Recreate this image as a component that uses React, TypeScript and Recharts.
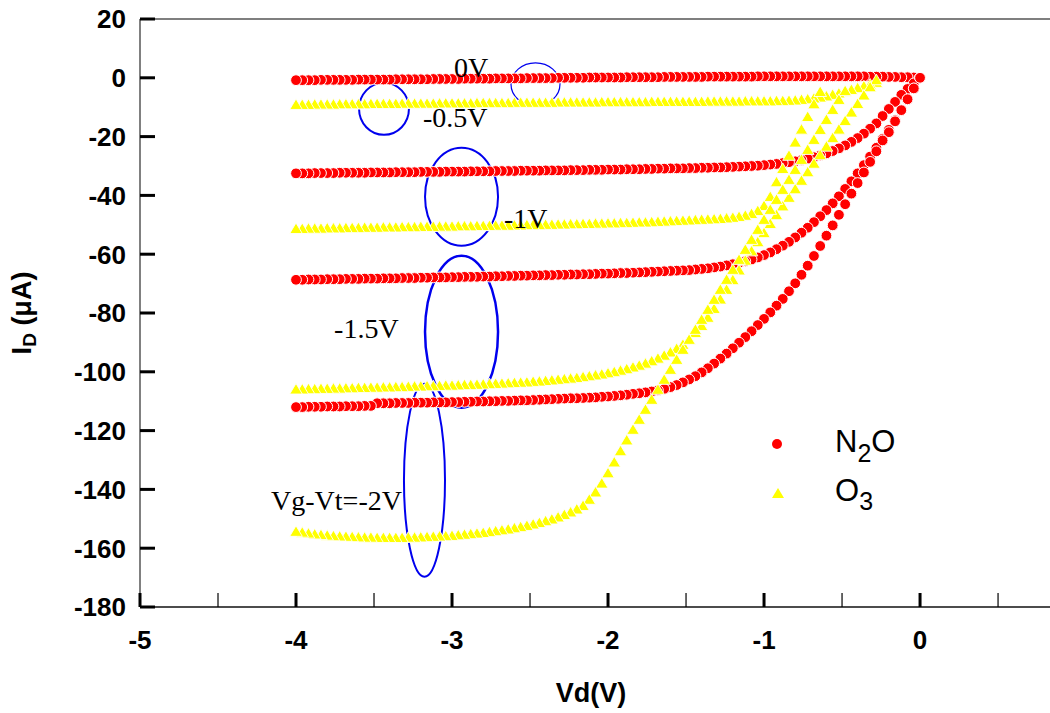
import {
  ScatterChart, Scatter, XAxis, YAxis, ReferenceLine, ReferenceArea, ReferenceDot, Legend,
} from "recharts";

// drain sweep, V
const VD = [
  -4, -3.96, -3.92, -3.88, -3.84, -3.8, -3.76, -3.72, -3.68, -3.64,
  -3.6, -3.56, -3.52, -3.48, -3.44, -3.4, -3.36, -3.32, -3.28, -3.24,
  -3.2, -3.16, -3.12, -3.08, -3.04, -3, -2.96, -2.92, -2.88, -2.84,
  -2.8, -2.76, -2.72, -2.68, -2.64, -2.6, -2.56, -2.52, -2.48, -2.44,
  -2.4, -2.36, -2.32, -2.28, -2.24, -2.2, -2.16, -2.12, -2.08, -2.04,
  -2, -1.96, -1.92, -1.88, -1.84, -1.8, -1.76, -1.72, -1.68, -1.64,
  -1.6, -1.56, -1.52, -1.48, -1.44, -1.4, -1.36, -1.32, -1.28, -1.24,
  -1.2, -1.16, -1.12, -1.08, -1.04, -1, -0.96, -0.92, -0.88, -0.84,
  -0.8, -0.76, -0.72, -0.68, -0.64, -0.6, -0.56, -0.52, -0.48, -0.44,
  -0.4, -0.36, -0.32, -0.28, -0.24, -0.2, -0.16, -0.12, -0.08, -0.04,
  0,
];

// N2O drain current (uA), one array per Vg-Vt step
const N2O_0V = [
  -0.8, -0.8, -0.8, -0.8, -0.7, -0.7, -0.7, -0.7, -0.7, -0.7,
  -0.6, -0.6, -0.6, -0.6, -0.6, -0.6, -0.5, -0.5, -0.5, -0.5,
  -0.5, -0.5, -0.4, -0.4, -0.4, -0.4, -0.4, -0.3, -0.3, -0.3,
  -0.3, -0.3, -0.2, -0.2, -0.2, -0.2, -0.2, -0.1, -0.1, -0.1,
  -0.1, -0.1, 0, 0, 0, 0, 0, 0.1, 0.1, 0.1,
  0.1, 0.1, 0.1, 0.2, 0.2, 0.2, 0.2, 0.2, 0.2, 0.3,
  0.3, 0.3, 0.3, 0.3, 0.3, 0.3, 0.4, 0.4, 0.4, 0.4,
  0.4, 0.4, 0.4, 0.4, 0.5, 0.5, 0.5, 0.5, 0.5, 0.5,
  0.5, 0.5, 0.5, 0.5, 0.5, 0.5, 0.5, 0.5, 0.5, 0.5,
  0.5, 0.5, 0.4, 0.4, 0.4, 0.3, 0.3, 0.2, 0.2, 0.1,
  0,
];
const N2O_05V = [
  -32.5, -32.5, -32.5, -32.4, -32.4, -32.4, -32.4, -32.3, -32.3, -32.3,
  -32.3, -32.3, -32.2, -32.2, -32.2, -32.2, -32.1, -32.1, -32.1, -32.1,
  -32.0, -32.0, -32.0, -32.0, -31.9, -31.9, -31.9, -31.9, -31.8, -31.8,
  -31.8, -31.8, -31.7, -31.7, -31.7, -31.7, -31.6, -31.6, -31.6, -31.6,
  -31.5, -31.5, -31.5, -31.5, -31.4, -31.4, -31.4, -31.3, -31.3, -31.3,
  -31.2, -31.2, -31.2, -31.1, -31.1, -31.1, -31.0, -31.0, -30.9, -30.9,
  -30.8, -30.8, -30.8, -30.7, -30.7, -30.6, -30.6, -30.5, -30.5, -30.4,
  -30.3, -30.2, -30.1, -30.0, -29.9, -29.7, -29.5, -29.3, -29.0, -28.7,
  -28.4, -28.0, -27.5, -27.0, -26.4, -25.7, -24.9, -24.0, -23.0, -21.8,
  -20.5, -19.0, -17.3, -15.5, -13.0, -10.6, -8.2, -5.8, -3.8, -1.9,
  0,
];
const N2O_1V = [
  -68.7, -68.7, -68.6, -68.6, -68.6, -68.5, -68.5, -68.5, -68.4, -68.4,
  -68.4, -68.3, -68.3, -68.3, -68.2, -68.2, -68.2, -68.1, -68.1, -68.1,
  -68.0, -68.0, -67.9, -67.9, -67.9, -67.8, -67.8, -67.7, -67.7, -67.7,
  -67.6, -67.6, -67.5, -67.5, -67.4, -67.4, -67.3, -67.3, -67.2, -67.2,
  -67.1, -67.1, -67.0, -67.0, -66.9, -66.9, -66.8, -66.8, -66.7, -66.6,
  -66.6, -66.5, -66.4, -66.4, -66.3, -66.2, -66.1, -66.0, -65.9, -65.8,
  -65.7, -65.6, -65.5, -65.4, -65.2, -65.0, -64.8, -64.5, -64.2, -63.8,
  -63.4, -62.9, -62.4, -61.8, -61.1, -60.3, -59.4, -58.3, -57.1, -55.8,
  -54.3, -52.7, -51.0, -49.1, -47.1, -45.0, -42.7, -40.3, -37.8, -35.2,
  -32.5, -29.7, -26.8, -23.8, -20.8, -17.7, -14.4, -11.0, -7.4, -3.7,
  0,
];
const N2O_15V = [
  -112.0, -112.0, -111.9, -111.9, -111.9, -111.8, -111.8, -111.8, -111.7, -111.7,
  -111.7, -111.6, -111.6, -110.7, -110.7, -110.7, -110.6, -110.6, -110.6, -110.5,
  -110.5, -110.5, -110.4, -110.4, -110.4, -110.3, -110.3, -110.2, -110.2, -110.1,
  -110.1, -110.0, -110.0, -109.9, -109.9, -109.8, -109.7, -109.7, -109.6, -109.5,
  -109.4, -109.3, -109.2, -109.1, -109.0, -109.0, -108.9, -108.8, -108.7, -108.5,
  -108.4, -108.2, -108.0, -107.8, -107.5, -107.3, -107.0, -106.7, -106.3, -105.8,
  -105.2, -104.5, -103.6, -102.6, -101.5, -100.2, -98.8, -97.2, -95.5, -93.8,
  -92.0, -90.1, -88.2, -86.2, -84.1, -82.0, -79.8, -77.5, -75.2, -72.6,
  -69.9, -67.0, -63.9, -60.6, -57.2, -53.7, -50.2, -46.6, -43.0, -39.4,
  -35.8, -32.2, -28.6, -25.0, -21.3, -18.5, -14.8, -11.0, -7.3, -3.6,
  0,
];

// O3 drain current (uA); these sweeps stop short of Vd = 0
const O3_0V = [
  -9.2, -9.2, -9.2, -9.1, -9.1, -9.1, -9.1, -9.0, -9.0, -9.0,
  -9.0, -9.0, -8.9, -8.9, -8.9, -8.9, -8.9, -8.8, -8.8, -8.8,
  -8.8, -8.8, -8.8, -8.7, -8.7, -8.7, -8.7, -8.7, -8.7, -8.6,
  -8.6, -8.6, -8.6, -8.6, -8.6, -8.5, -8.5, -8.5, -8.5, -8.5,
  -8.5, -8.5, -8.4, -8.4, -8.4, -8.4, -8.4, -8.4, -8.4, -8.3,
  -8.3, -8.3, -8.3, -8.3, -8.3, -8.3, -8.3, -8.2, -8.2, -8.2,
  -8.2, -8.2, -8.2, -8.2, -8.2, -8.2, -8.1, -8.1, -8.1, -8.1,
  -8.1, -8.1, -8.0, -8.0, -8.0, -8.0, -8.0, -7.9, -7.9, -7.8,
  -7.7, -7.5, -7.3, -7.0, -6.7, -6.3, -5.8, -5.3, -4.7, -4.1,
  -3.5, -2.9, -2.3, -1.7,
];
const O3_05V = [
  -51.4, -51.4, -51.3, -51.3, -51.3, -51.2, -51.2, -51.2, -51.1, -51.1,
  -51.1, -51.0, -51.0, -51.0, -50.9, -50.9, -50.9, -50.8, -50.8, -50.8,
  -50.7, -50.7, -50.7, -50.6, -50.6, -50.6, -50.5, -50.5, -50.5, -50.4,
  -50.4, -50.4, -50.3, -50.3, -50.3, -50.2, -50.2, -50.1, -50.1, -50.1,
  -50.0, -50.0, -49.9, -49.9, -49.8, -49.8, -49.7, -49.7, -49.6, -49.6,
  -49.5, -49.5, -49.4, -49.4, -49.3, -49.2, -49.2, -49.1, -49.0, -48.9,
  -48.8, -48.7, -48.6, -48.5, -48.4, -48.3, -48.2, -48.1, -48.0, -47.8,
  -47.6, -47.3, -46.9, -46.3, -45.3, -43.6, -40.5, -35.5, -31.0, -26.5,
  -22.0, -17.6, -13.3, -9.0, -4.8,
];
const O3_1V = [
  -106.0, -106.0, -105.9, -105.9, -105.8, -105.8, -105.7, -105.7, -105.6, -105.6,
  -105.5, -105.5, -105.4, -105.4, -105.3, -105.3, -105.2, -105.2, -105.1, -105.0,
  -105.0, -104.9, -104.9, -104.8, -104.7, -104.7, -104.6, -104.5, -104.5, -104.4,
  -104.3, -104.2, -104.1, -104.0, -103.9, -103.8, -103.7, -103.6, -103.4, -103.3,
  -103.1, -102.9, -102.7, -102.5, -102.3, -102.1, -101.8, -101.5, -101.2, -100.9,
  -100.5, -100.1, -99.6, -99.1, -98.5, -97.9, -97.2, -96.4, -95.5, -94.5,
  -93.4, -92.2, -90.8, -89.2, -86.8, -84.4, -81.6, -78.6, -75.4, -72.1,
  -68.8, -65.5, -62.2, -59.0, -55.9, -52.8, -49.7, -46.7, -43.7, -40.8,
  -37.9, -35.0, -32.1, -29.2, -26.3, -23.4, -20.5, -17.6, -14.7, -11.8,
  -8.9, -6.0, -3.2, -0.8,
];
const O3_15V = [
  -154.4, -154.7, -155.0, -155.3, -155.5, -155.7, -155.9, -156.0, -156.1, -156.2,
  -156.3, -156.4, -156.4, -156.5, -156.5, -156.5, -156.5, -156.5, -156.4, -156.4,
  -156.3, -156.2, -156.1, -156.0, -155.9, -155.8, -155.6, -155.4, -155.2, -155.0,
  -154.8, -154.5, -154.2, -153.9, -153.6, -153.2, -152.8, -152.4, -151.9, -151.4,
  -150.8, -150.2, -149.5, -148.7, -147.8, -146.8, -145.6, -143.5, -141.0, -138.0,
  -134.5, -130.8, -127.0, -123.3, -119.7, -116.3, -112.9, -109.5, -106.1, -102.7,
  -99.3, -95.9, -92.5, -89.1, -85.7, -82.3, -78.9, -75.5, -72.1, -68.7,
  -65.3, -61.9, -58.5, -55.1, -51.7, -48.3, -44.9, -41.5, -38.1, -34.7,
  -31.3, -27.9, -24.5, -21.1, -17.7, -14.3, -10.9, -7.5, -4.5,
];

const X_TICKS = [-5, -4.5, -4, -3.5, -3, -2.5, -2, -1.5, -1, -0.5, 0, 0.5];
const Y_TICKS = [-180, -160, -140, -120, -100, -80, -60, -40, -20, 0, 20];

// gate-step annotations: text, Vd, Id at the text baseline start
const NOTE_TEXT = ["0V", "-0.5V", "-1V", "-1.5V", "Vg-Vt=-2V"];
const NOTE_VD = [-2.987, -3.186, -2.667, -3.756, -4.16];
const NOTE_ID = [0.4, -16.7, -51.0, -88.4, -146.9];

// ellipses pairing the curves: Vd range, Id range
const RING_VD = [[-2.622, -2.308], [-3.596, -3.276], [-3.173, -2.705], [-3.173, -2.705], [-3.308, -3.045]];
const RING_ID = [[-9.5, 5.1], [-19.4, -1.7], [-57.1, -23.8], [-112.2, -60.5], [-169.7, -104.1]];
const RING_W = [1.2, 2, 2, 2.5, 2];

const SANS = "'Liberation Sans', Arial, sans-serif";
const SERIF = "'Liberation Serif', 'Times New Roman', serif";

// points are stored low-to-high but drawn from Vd = 0 back to -4
const toPoints = (ids: number[]) => ids.map((id, i) => ({ vd: VD[i], id })).reverse();

const RedDot = (p: any) => (
  <circle cx={p.cx} cy={p.cy} r={5.4} fill="#ff0000" stroke="#fff" strokeWidth={1} />
);

const YellowTri = (p: any) => (
  <polygon
    points={`${p.cx},${p.cy - 6} ${p.cx - 6.3},${p.cy + 4.6} ${p.cx + 6.3},${p.cy + 4.6}`}
    fill="#ffff00"
    stroke="#fff"
    strokeWidth={0.9}
  />
);

const XTick = ({ x, y, payload }: any) => {
  const major = Number.isInteger(payload.value);
  return (
    <g>
      <line x1={x} x2={x} y1={y} y2={y - 14} stroke="#000" strokeWidth={major ? 3 : 1.2} />
      {major && (
        <text x={x} y={y + 33} dy="0.36em" textAnchor="middle" fontFamily={SANS} fontWeight="bold" fontSize={26} fill="#000">
          {payload.value}
        </text>
      )}
    </g>
  );
};

const YTick = ({ x, y, payload }: any) => (
  <g>
    <line x1={x} x2={x + 15} y1={y} y2={y} stroke="#000" strokeWidth={3} />
    <text x={x - 14} y={y} dy="0.36em" textAnchor="end" fontFamily={SANS} fontWeight="bold" fontSize={26} fill="#000">
      {payload.value}
    </text>
  </g>
);

const XTitle = ({ viewBox }: any) => (
  <text x={viewBox.x + viewBox.width / 2 - 4} y={viewBox.y + 95} textAnchor="middle" fontFamily={SANS} fontWeight="bold" fontSize={27} fill="#000">
    Vd(V)
  </text>
);

const YTitle = ({ viewBox }: any) => (
  <text
    transform="rotate(-90)"
    x={-(viewBox.y + viewBox.height / 2)}
    y={31}
    textAnchor="middle"
    fontFamily={SANS}
    fontWeight="bold"
    fontSize={27}
    fill="#000"
  >
    I<tspan dy={5} fontSize={19}>D</tspan>
    <tspan dy={-5}> (μA)</tspan>
  </text>
);

const LegendBox = () => (
  <svg width={150} height={100}>
    <circle cx={17} cy={24} r={5} fill="#ff0000" />
    <text x={75} y={32} fontFamily={SANS} fontSize={31} fill="#000">
      N<tspan dy={10} fontSize={25}>2</tspan>
      <tspan dy={-10}>O</tspan>
    </text>
    <polygon points="18,68 12,78 24,78" fill="#ffff00" />
    <text x={75} y={81} fontFamily={SANS} fontSize={31} fill="#000">
      O<tspan dy={9} fontSize={25}>3</tspan>
    </text>
  </svg>
);

const ring = (w: number) => (p: any) => (
  <ellipse
    cx={p.x + p.width / 2}
    cy={p.y + p.height / 2}
    rx={Math.abs(p.width) / 2}
    ry={Math.abs(p.height) / 2}
    fill="none"
    stroke="#0000ee"
    strokeWidth={w}
  />
);

const note = (text: string) => (p: any) => (
  <text x={p.cx} y={p.cy} fontFamily={SERIF} fontSize={28} fill="#000">
    {text}
  </text>
);

export default function App() {
  return (
    <div style={{ position: "absolute", left: 0, top: 0, width: 1050, height: 713, background: "#fff" }}>
      <ScatterChart width={1050} height={713} margin={{ top: 19, right: 0, bottom: 0, left: 0 }}>
        <XAxis
          type="number"
          dataKey="vd"
          domain={[-5, 0.833]}
          allowDataOverflow
          ticks={X_TICKS}
          interval={0}
          height={106}
          tickSize={0}
          tickMargin={0}
          tick={<XTick />}
          axisLine={{ stroke: "#111", strokeWidth: 1.5 }}
          label={{ content: <XTitle /> }}
        />
        <YAxis
          type="number"
          dataKey="id"
          domain={[-180, 20]}
          allowDataOverflow
          ticks={Y_TICKS}
          interval={0}
          width={140}
          tickSize={0}
          tickMargin={0}
          tick={<YTick />}
          axisLine={{ stroke: "#808080", strokeWidth: 2 }}
          label={{ content: <YTitle /> }}
        />
        <ReferenceLine y={20} stroke="#000" strokeWidth={1.2} />

        <Scatter name="N2O" data={toPoints(N2O_0V)} fill="#ff0000" shape={RedDot} isAnimationActive={false} />
        <Scatter name="N2O" data={toPoints(N2O_05V)} fill="#ff0000" shape={RedDot} isAnimationActive={false} />
        <Scatter name="N2O" data={toPoints(N2O_1V)} fill="#ff0000" shape={RedDot} isAnimationActive={false} />
        <Scatter name="N2O" data={toPoints(N2O_15V)} fill="#ff0000" shape={RedDot} isAnimationActive={false} />
        <Scatter name="O3" data={toPoints(O3_0V)} fill="#ffff00" shape={YellowTri} isAnimationActive={false} />
        <Scatter name="O3" data={toPoints(O3_05V)} fill="#ffff00" shape={YellowTri} isAnimationActive={false} />
        <Scatter name="O3" data={toPoints(O3_1V)} fill="#ffff00" shape={YellowTri} isAnimationActive={false} />
        <Scatter name="O3" data={toPoints(O3_15V)} fill="#ffff00" shape={YellowTri} isAnimationActive={false} />

        {RING_VD.map((vd, i) => (
          <ReferenceArea
            key={`ring-${i}`}
            x1={vd[0]}
            x2={vd[1]}
            y1={RING_ID[i][0]}
            y2={RING_ID[i][1]}
            shape={ring(RING_W[i])}
          />
        ))}
        {NOTE_TEXT.map((t, i) => (
          <ReferenceDot key={`note-${i}`} x={NOTE_VD[i]} y={NOTE_ID[i]} r={0} shape={note(t)} />
        ))}

        <Legend
          layout="vertical"
          align="center"
          verticalAlign="middle"
          content={<LegendBox />}
          wrapperStyle={{ position: "absolute", left: 760, top: 420, width: 150, height: 100 }}
        />
      </ScatterChart>
    </div>
  );
}
